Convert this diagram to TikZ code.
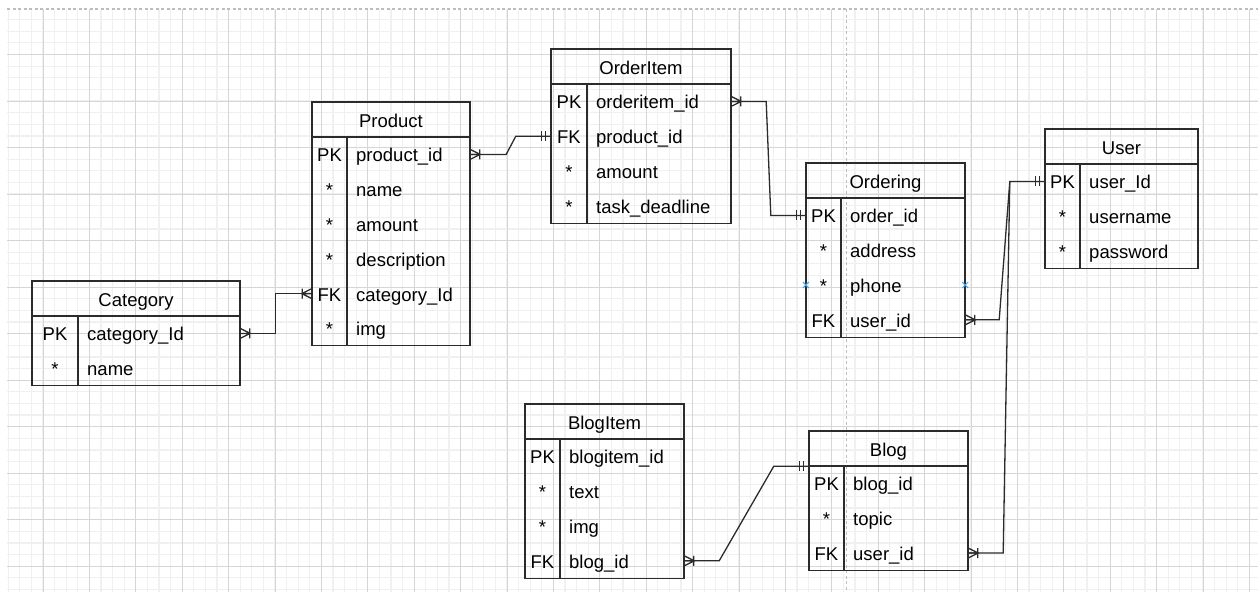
\documentclass[tikz,border=0pt]{standalone}
\usepackage{fontspec}
\setmainfont{Liberation Sans}
\definecolor{minorg}{HTML}{F0F0F0}
\definecolor{majorg}{HTML}{D6D6D6}
\definecolor{pageg}{HTML}{BDBDBD}
\definecolor{strokec}{HTML}{2B2B2B}
\definecolor{hoverc}{HTML}{45A8EE}
\tikzset{
  minorgrid/.style={draw=minorg, line width=1.2pt},
  majorgrid/.style={draw=majorg, line width=1pt},
  pagebreak/.style={draw=pageg, line width=1.3pt, dash pattern=on 3pt off 2.5pt},
  tabline/.style={draw=strokec, line width=1.3pt},
  tabbox/.style={draw=strokec, line width=1.3pt, inner sep=0pt, fill=none},
  headbox/.style={inner sep=0pt, minimum height=35pt, text height=15pt, text depth=0pt, font=\fontsize{18.5}{20}\selectfont},
  rowbox/.style={inner sep=0pt, minimum height=34.8pt},
  keytext/.style={inner sep=0pt, text height=15pt, text depth=0pt, font=\fontsize{18.5}{20}\selectfont},
  fieldtext/.style={inner sep=0pt, anchor=west, text height=15pt, text depth=0pt, font=\fontsize{18.5}{20}\selectfont},
  conn/.style={draw=strokec, line width=1.3pt},
  crowone/.pic={\draw[conn] (0,-5)--(10,0)--(0,5) (0,0)--(10,0) (9.5,-5)--(9.5,5);},
  mandone/.pic={\draw[conn] (5.5,-5)--(5.5,5) (9,-5)--(9,5);},
  hovermark/.pic={\draw[draw=hoverc, line width=1pt] (-3,-3)--(3,3) (-3,3)--(3,-3);}
}
% #1 id, #2 left, #3 top, #4 right, #5 divider, #6 nrows, #7 title
\newcommand\ertable[7]{%
  \pgfmathsetmacro\tabbot{#3+35+34.8*#6}%
  \pgfmathsetmacro\tabw{#4-#2}%
  \pgfmathsetmacro\tabh{\tabbot-#3}%
  \node[tabbox, minimum width=\tabw pt, minimum height=\tabh pt] (#1) at ({(#2+#4)/2},{(#3+\tabbot)/2}) {};
  \draw[tabline] (#2,#3+35) -- (#4,#3+35);
  \draw[tabline] (#5,#3+35) -- (#5,\tabbot);
  \node[headbox, minimum width=\tabw pt] (#1-head) at ({(#2+#4)/2},{#3+17.5}) {#7};
  \xdef\tabL{#2}\xdef\tabR{#4}\xdef\tabD{#5}\xdef\tabT{#3}%
}
% #1 id, #2 index, #3 key, #4 field
\newcommand\errow[4]{%
  \pgfmathsetmacro\rowy{\tabT+35+34.8*(#2-0.5)}%
  \pgfmathsetmacro\tabw{\tabR-\tabL}%
  \node[rowbox, minimum width=\tabw pt] (#1) at ({(\tabL+\tabR)/2},\rowy) {};
  \node[keytext] (#1-k) at ({(\tabL+\tabD)/2},\rowy) {#3};
  \node[fieldtext] (#1-f) at ({\tabD+9},\rowy) {#4};
}
\begin{document}
\begin{tikzpicture}[x=1pt,y=-1pt]
\useasboundingbox (0,0) rectangle (1258,592);
% grid
\begin{scope}
\clip (7,9) rectangle (1258,592);
\foreach \i in {0,...,107} \draw[minorgrid] ({8.2+11.6*\i},9) -- ++(0,583);
\foreach \i in {0,...,50} \draw[minorgrid] (7,{8+11.63*\i}) -- (1258,{8+11.63*\i});
\foreach \i in {0,...,26} \draw[majorgrid] ({43+46.4*\i},9) -- ++(0,583);
\foreach \i in {0,...,11} \draw[majorgrid] (7,{54.5+46.5*\i}) -- (1258,{54.5+46.5*\i});
\end{scope}
\draw[pagebreak] (7,9) -- (1258,9);
\draw[pagebreak] (846.7,9) -- (846.7,592);

% tables
\ertable{cat}{32}{281}{240}{78}{2}{Category}
\errow{cat-r1}{1}{PK}{category\_Id}
\errow{cat-r2}{2}{*}{name}

\ertable{prod}{312}{102}{470}{347}{6}{Product}
\errow{prod-r1}{1}{PK}{product\_id}
\errow{prod-r2}{2}{*}{name}
\errow{prod-r3}{3}{*}{amount}
\errow{prod-r4}{4}{*}{description}
\errow{prod-r5}{5}{FK}{category\_Id}
\errow{prod-r6}{6}{*}{img}

\ertable{oi}{551}{49}{731}{587}{4}{OrderItem}
\errow{oi-r1}{1}{PK}{orderitem\_id}
\errow{oi-r2}{2}{FK}{product\_id}
\errow{oi-r3}{3}{*}{amount}
\errow{oi-r4}{4}{*}{task\_deadline}

\ertable{ord}{806}{163}{965}{841}{4}{Ordering}
\errow{ord-r1}{1}{PK}{order\_id}
\errow{ord-r2}{2}{*}{address}
\errow{ord-r3}{3}{*}{phone}
\errow{ord-r4}{4}{FK}{user\_id}

\ertable{user}{1045}{129}{1198}{1080}{3}{User}
\errow{user-r1}{1}{PK}{user\_Id}
\errow{user-r2}{2}{*}{username}
\errow{user-r3}{3}{*}{password}

\ertable{bi}{525}{404}{684}{560}{4}{BlogItem}
\errow{bi-r1}{1}{PK}{blogitem\_id}
\errow{bi-r2}{2}{*}{text}
\errow{bi-r3}{3}{*}{img}
\errow{bi-r4}{4}{FK}{blog\_id}

\ertable{blog}{809}{431}{968}{844}{3}{Blog}
\errow{blog-r1}{1}{PK}{blog\_id}
\errow{blog-r2}{2}{*}{topic}
\errow{blog-r3}{3}{FK}{user\_id}

% connectors
\draw[conn] (cat-r1.east) -- ++(35,0) |- (prod-r5.west);
\pic at (cat-r1.east) {crowone};
\pic[xscale=-1] at (prod-r5.west) {crowone};

\draw[conn] (prod-r1.east) -- ++(36,0) -- ([xshift=-35pt]oi-r2.west) -- (oi-r2.west);
\pic at (prod-r1.east) {crowone};
\pic[xscale=-1] at (oi-r2.west) {mandone};

\draw[conn] (oi-r1.east) -- ++(35,0) -- ([xshift=-35pt]ord-r1.west) -- (ord-r1.west);
\pic at (oi-r1.east) {crowone};
\pic[xscale=-1] at (ord-r1.west) {mandone};

\draw[conn] (ord-r4.east) -- ++(34,0) -- ([xshift=-35pt]user-r1.west) -- (user-r1.west);
\pic at (ord-r4.east) {crowone};
\pic[xscale=-1] at (user-r1.west) {mandone};

\draw[conn] (blog-r3.east) -- ++(35,0) -- ([xshift=-35pt]user-r1.west);
\pic at (blog-r3.east) {crowone};

\draw[conn] (bi-r4.east) -- ++(35,0) -- ([xshift=-35pt]blog-head.south west) -- (blog-head.south west);
\pic at (bi-r4.east) {crowone};
\pic[xscale=-1] at (blog-head.south west) {mandone};

% hover markers
\pic at (ord-r3.west) {hovermark};
\pic at (ord-r3.east) {hovermark};
\end{tikzpicture}
\end{document}
